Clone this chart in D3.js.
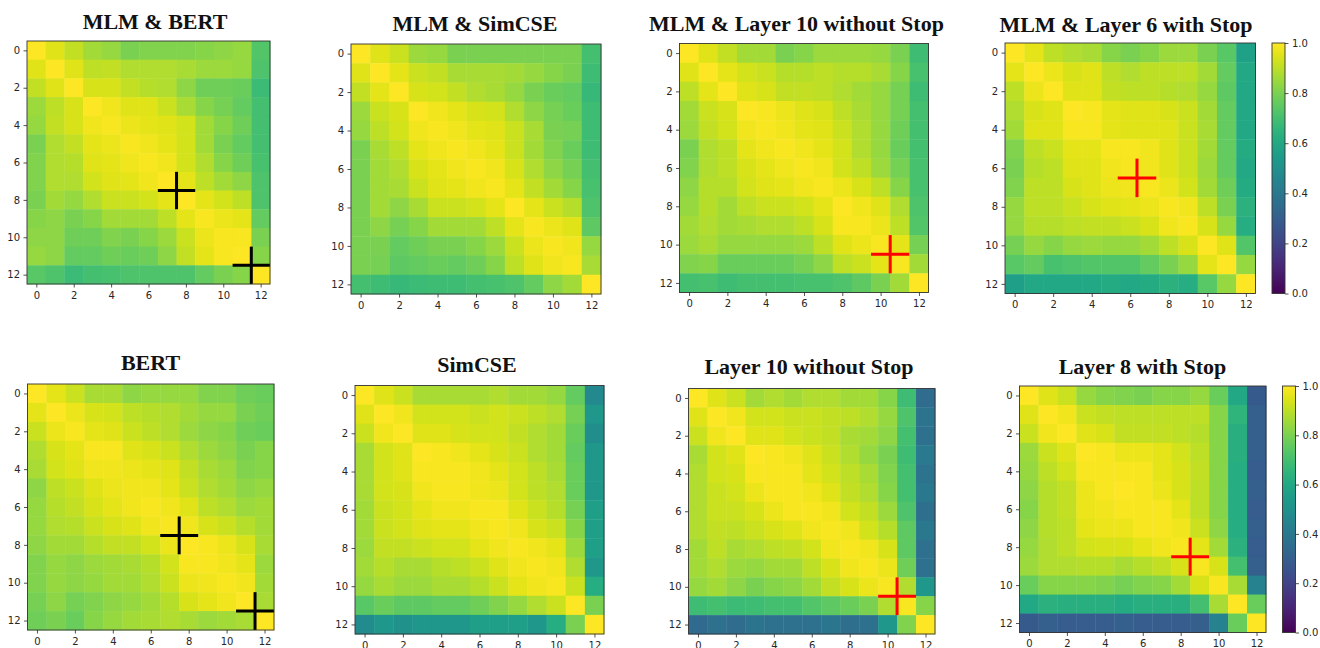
<!DOCTYPE html>
<html><head><meta charset="utf-8">
<script src="https://cdn.jsdelivr.net/npm/d3@7"></script>
<style>body{margin:0;background:#fff;} svg{display:block;}</style>
</head><body>
<svg id="chart" width="1320" height="648"></svg>
<script>
// ---------- DATA ----------
const layerIndex = [0,1,2,3,4,5,6,7,8,9,10,11,12];
const axisTicks = [0,2,4,6,8,10,12];
const colorbarTicks = [0.0,0.2,0.4,0.6,0.8,1.0];
const titles = ["MLM & BERT","MLM & SimCSE","MLM & Layer 10 without Stop","MLM & Layer 6 with Stop",
                "BERT","SimCSE","Layer 10 without Stop","Layer 8 with Stop"];

const mlmBert = [
 [1.00,0.95,0.91,0.86,0.84,0.80,0.81,0.81,0.81,0.82,0.83,0.84,0.73],
 [0.95,1.00,0.95,0.90,0.91,0.88,0.88,0.88,0.87,0.85,0.85,0.84,0.72],
 [0.91,0.95,1.00,0.94,0.94,0.91,0.89,0.88,0.83,0.78,0.78,0.77,0.68],
 [0.85,0.90,0.94,1.00,0.98,0.95,0.95,0.92,0.87,0.82,0.79,0.76,0.70],
 [0.84,0.91,0.94,0.98,0.99,0.97,0.96,0.95,0.93,0.86,0.82,0.78,0.70],
 [0.80,0.88,0.91,0.96,0.97,0.99,0.98,0.96,0.93,0.86,0.80,0.76,0.70],
 [0.81,0.88,0.89,0.95,0.96,0.98,0.99,0.98,0.93,0.88,0.82,0.78,0.71],
 [0.81,0.88,0.88,0.93,0.95,0.96,0.98,1.00,0.96,0.90,0.86,0.83,0.72],
 [0.80,0.86,0.84,0.88,0.92,0.92,0.93,0.96,1.00,0.96,0.93,0.90,0.72],
 [0.82,0.83,0.80,0.82,0.86,0.86,0.86,0.90,0.96,0.99,0.97,0.96,0.76],
 [0.83,0.83,0.78,0.78,0.81,0.80,0.82,0.85,0.92,0.97,0.99,0.99,0.80],
 [0.84,0.83,0.76,0.76,0.78,0.77,0.78,0.83,0.91,0.96,0.99,1.00,0.82],
 [0.74,0.72,0.68,0.70,0.71,0.72,0.72,0.72,0.72,0.76,0.80,0.82,1.00]
];
const mlmSimcse = [
 [1.00,0.95,0.92,0.85,0.84,0.80,0.80,0.80,0.80,0.80,0.80,0.80,0.70],
 [0.95,1.00,0.96,0.92,0.91,0.87,0.87,0.87,0.86,0.84,0.82,0.80,0.69],
 [0.91,0.96,1.00,0.94,0.93,0.91,0.88,0.87,0.84,0.80,0.77,0.76,0.67],
 [0.85,0.92,0.94,1.00,0.98,0.96,0.94,0.93,0.88,0.83,0.79,0.77,0.69],
 [0.84,0.90,0.93,0.98,0.99,0.98,0.96,0.95,0.92,0.87,0.80,0.79,0.69],
 [0.80,0.87,0.90,0.96,0.98,0.99,0.98,0.96,0.92,0.86,0.81,0.77,0.69],
 [0.80,0.86,0.88,0.94,0.96,0.98,0.99,0.98,0.94,0.88,0.83,0.79,0.70],
 [0.80,0.86,0.87,0.92,0.95,0.96,0.98,0.99,0.96,0.91,0.86,0.82,0.71],
 [0.80,0.86,0.83,0.87,0.92,0.92,0.93,0.96,1.00,0.96,0.92,0.89,0.72],
 [0.80,0.83,0.79,0.82,0.86,0.86,0.86,0.90,0.96,0.99,0.97,0.95,0.75],
 [0.80,0.80,0.76,0.78,0.80,0.80,0.82,0.85,0.92,0.97,0.99,0.98,0.84],
 [0.80,0.79,0.75,0.76,0.77,0.76,0.78,0.82,0.90,0.95,0.98,0.99,0.87],
 [0.70,0.69,0.67,0.68,0.69,0.69,0.70,0.71,0.72,0.76,0.83,0.86,1.00]
];
const mlmL10NoStop = [
 [1.00,0.95,0.91,0.86,0.86,0.80,0.82,0.85,0.85,0.85,0.84,0.80,0.69],
 [0.95,1.00,0.96,0.93,0.92,0.89,0.89,0.90,0.89,0.89,0.87,0.82,0.71],
 [0.90,0.96,1.00,0.95,0.94,0.91,0.91,0.90,0.88,0.86,0.84,0.79,0.69],
 [0.86,0.92,0.94,1.00,0.99,0.97,0.95,0.94,0.90,0.87,0.84,0.79,0.70],
 [0.85,0.91,0.93,0.98,0.99,0.98,0.96,0.95,0.92,0.88,0.84,0.78,0.70],
 [0.80,0.88,0.90,0.96,0.98,0.99,0.98,0.96,0.93,0.88,0.84,0.77,0.70],
 [0.81,0.88,0.90,0.94,0.96,0.98,0.99,0.98,0.93,0.90,0.85,0.79,0.71],
 [0.83,0.89,0.89,0.93,0.95,0.96,0.98,0.99,0.97,0.94,0.90,0.82,0.71],
 [0.84,0.89,0.86,0.90,0.92,0.92,0.93,0.96,1.00,0.98,0.95,0.88,0.72],
 [0.86,0.88,0.86,0.87,0.88,0.88,0.90,0.94,0.99,0.99,0.97,0.90,0.73],
 [0.85,0.87,0.84,0.84,0.84,0.84,0.85,0.90,0.95,0.97,0.99,0.96,0.79],
 [0.81,0.82,0.77,0.77,0.77,0.77,0.79,0.83,0.90,0.92,0.96,0.99,0.86],
 [0.70,0.71,0.69,0.70,0.70,0.70,0.71,0.71,0.72,0.75,0.80,0.86,1.00]
];
const mlmL6Stop = [
 [1.00,0.96,0.90,0.88,0.87,0.82,0.80,0.82,0.85,0.85,0.80,0.74,0.57],
 [0.96,1.00,0.97,0.94,0.95,0.90,0.88,0.90,0.90,0.90,0.86,0.76,0.60],
 [0.90,0.97,1.00,0.95,0.95,0.91,0.90,0.90,0.89,0.88,0.84,0.75,0.60],
 [0.88,0.94,0.95,1.00,0.99,0.96,0.95,0.95,0.94,0.92,0.86,0.76,0.60],
 [0.86,0.95,0.95,0.99,0.99,0.96,0.95,0.95,0.95,0.92,0.87,0.76,0.60],
 [0.81,0.90,0.92,0.96,0.96,0.99,0.99,0.98,0.95,0.92,0.86,0.76,0.61],
 [0.80,0.89,0.90,0.95,0.95,0.98,0.99,0.98,0.95,0.92,0.85,0.76,0.60],
 [0.81,0.90,0.90,0.94,0.95,0.97,0.98,0.99,0.97,0.93,0.86,0.78,0.61],
 [0.84,0.90,0.90,0.92,0.94,0.95,0.96,0.97,0.99,0.98,0.90,0.80,0.64],
 [0.84,0.89,0.89,0.90,0.91,0.91,0.92,0.94,0.98,0.99,0.94,0.84,0.62],
 [0.79,0.84,0.82,0.84,0.85,0.84,0.84,0.86,0.90,0.94,1.00,0.95,0.73],
 [0.74,0.76,0.71,0.72,0.73,0.73,0.73,0.76,0.80,0.84,0.96,1.00,0.84],
 [0.56,0.60,0.60,0.60,0.60,0.61,0.60,0.61,0.64,0.62,0.74,0.84,1.00]
];
const bert = [
 [1.00,0.96,0.92,0.87,0.87,0.83,0.84,0.84,0.84,0.81,0.81,0.78,0.77],
 [0.96,1.00,0.97,0.94,0.93,0.90,0.89,0.88,0.86,0.84,0.84,0.80,0.78],
 [0.92,0.97,0.99,0.96,0.95,0.92,0.90,0.88,0.85,0.83,0.82,0.78,0.77],
 [0.88,0.94,0.96,0.99,0.99,0.95,0.94,0.92,0.88,0.85,0.83,0.80,0.82],
 [0.87,0.93,0.95,0.98,0.98,0.97,0.96,0.95,0.91,0.87,0.85,0.81,0.82],
 [0.83,0.90,0.92,0.95,0.97,0.98,0.98,0.96,0.92,0.88,0.86,0.83,0.84],
 [0.84,0.89,0.91,0.94,0.96,0.98,0.99,0.98,0.95,0.90,0.88,0.85,0.86],
 [0.84,0.88,0.89,0.92,0.94,0.95,0.98,0.99,0.98,0.94,0.92,0.89,0.86],
 [0.83,0.86,0.86,0.89,0.91,0.91,0.93,0.97,1.00,0.99,0.97,0.94,0.87],
 [0.81,0.84,0.83,0.85,0.86,0.87,0.89,0.93,0.99,0.99,0.98,0.96,0.85],
 [0.81,0.84,0.83,0.84,0.86,0.86,0.88,0.92,0.97,0.98,0.99,0.98,0.86],
 [0.79,0.83,0.79,0.81,0.83,0.84,0.86,0.89,0.94,0.96,0.98,1.00,0.87],
 [0.78,0.80,0.77,0.82,0.84,0.86,0.87,0.88,0.87,0.85,0.86,0.87,1.00]
];
const simcse = [
 [1.00,0.95,0.92,0.87,0.87,0.87,0.87,0.88,0.86,0.86,0.84,0.76,0.47],
 [0.95,1.00,0.98,0.93,0.93,0.93,0.92,0.93,0.92,0.90,0.88,0.79,0.53],
 [0.92,0.98,1.00,0.95,0.95,0.94,0.93,0.93,0.91,0.88,0.86,0.77,0.49],
 [0.87,0.93,0.95,1.00,0.99,0.98,0.96,0.94,0.92,0.88,0.86,0.76,0.53],
 [0.87,0.93,0.95,0.99,0.99,0.99,0.98,0.96,0.93,0.90,0.87,0.77,0.53],
 [0.87,0.93,0.94,0.98,0.99,0.99,0.98,0.97,0.93,0.90,0.88,0.77,0.53],
 [0.86,0.92,0.93,0.96,0.98,0.98,0.99,0.99,0.95,0.92,0.89,0.79,0.56],
 [0.86,0.92,0.93,0.95,0.96,0.96,0.98,0.99,0.98,0.94,0.92,0.82,0.56],
 [0.85,0.91,0.91,0.92,0.93,0.93,0.96,0.98,0.99,0.98,0.96,0.85,0.56],
 [0.86,0.89,0.87,0.87,0.89,0.90,0.92,0.95,0.98,0.99,0.98,0.88,0.53],
 [0.84,0.87,0.85,0.85,0.87,0.87,0.89,0.92,0.96,0.98,0.99,0.92,0.62],
 [0.74,0.77,0.75,0.75,0.76,0.76,0.78,0.81,0.84,0.88,0.92,1.00,0.80],
 [0.48,0.53,0.50,0.53,0.53,0.53,0.56,0.56,0.56,0.53,0.62,0.80,1.00]
];
const l10NoStop = [
 [1.00,0.95,0.92,0.86,0.88,0.86,0.88,0.88,0.86,0.86,0.82,0.69,0.35],
 [0.95,1.00,0.98,0.93,0.93,0.92,0.92,0.91,0.90,0.88,0.84,0.72,0.38],
 [0.92,0.98,1.00,0.95,0.95,0.93,0.92,0.91,0.87,0.86,0.83,0.70,0.37],
 [0.87,0.93,0.95,1.00,0.99,0.98,0.95,0.92,0.88,0.84,0.80,0.69,0.41],
 [0.88,0.93,0.94,0.99,0.99,0.99,0.96,0.93,0.90,0.87,0.81,0.70,0.38],
 [0.88,0.92,0.93,0.97,0.99,0.99,0.98,0.95,0.91,0.88,0.82,0.70,0.40],
 [0.88,0.92,0.92,0.94,0.97,0.99,0.99,0.98,0.93,0.91,0.85,0.72,0.36],
 [0.88,0.91,0.90,0.92,0.94,0.95,0.98,0.99,0.98,0.93,0.89,0.75,0.40],
 [0.86,0.90,0.87,0.88,0.90,0.91,0.93,0.98,0.99,0.98,0.94,0.75,0.37],
 [0.86,0.88,0.85,0.84,0.86,0.86,0.90,0.94,0.98,0.99,0.97,0.78,0.37],
 [0.84,0.86,0.83,0.80,0.82,0.83,0.86,0.91,0.94,0.97,0.99,0.88,0.53],
 [0.69,0.70,0.68,0.69,0.70,0.70,0.73,0.75,0.77,0.80,0.88,0.99,0.82],
 [0.34,0.37,0.35,0.38,0.37,0.37,0.37,0.39,0.36,0.37,0.53,0.81,1.00]
];
const l8Stop = [
 [1.00,0.95,0.92,0.84,0.82,0.81,0.80,0.82,0.82,0.84,0.77,0.60,0.28],
 [0.95,1.00,0.98,0.92,0.91,0.90,0.90,0.90,0.90,0.90,0.82,0.65,0.30],
 [0.92,0.98,1.00,0.95,0.94,0.91,0.91,0.91,0.90,0.89,0.82,0.63,0.30],
 [0.85,0.92,0.95,1.00,0.99,0.97,0.97,0.96,0.93,0.90,0.82,0.63,0.30],
 [0.84,0.90,0.93,0.99,0.99,0.99,0.99,0.96,0.94,0.91,0.82,0.62,0.29],
 [0.83,0.89,0.91,0.97,0.99,1.00,0.99,0.97,0.94,0.90,0.82,0.62,0.30],
 [0.82,0.89,0.91,0.97,0.98,0.99,0.99,0.99,0.96,0.90,0.82,0.62,0.29],
 [0.83,0.89,0.90,0.96,0.97,0.97,0.99,0.99,0.98,0.92,0.83,0.62,0.30],
 [0.84,0.88,0.90,0.93,0.94,0.94,0.96,0.98,0.99,0.96,0.86,0.64,0.29],
 [0.85,0.88,0.88,0.89,0.89,0.87,0.89,0.91,0.94,0.99,0.94,0.70,0.30],
 [0.77,0.82,0.82,0.82,0.81,0.79,0.81,0.82,0.86,0.94,0.99,0.87,0.44],
 [0.60,0.64,0.63,0.63,0.63,0.61,0.63,0.63,0.63,0.70,0.87,1.00,0.77],
 [0.28,0.30,0.29,0.29,0.29,0.30,0.29,0.29,0.29,0.30,0.44,0.77,1.00]
];
const matrices = [mlmBert, mlmSimcse, mlmL10NoStop, mlmL6Stop, bert, simcse, l10NoStop, l8Stop];

// cross markers: panel, x, y, color
const markerPanel = [0,0,2,3,4,4,6,7];
const markerX     = [7.5,11.5,10.5,6.35,7.5,11.5,10.5,8.5];
const markerY     = [7.5,11.5,10.5,6.5,7.5,11.5,10.5,8.5];
const markerColor = ["#000","#000","#f00","#f00","#000","#000","#f00","#f00"];

// ---------- LAYOUT ----------
const layout = [
 {x:27,   y:41,   w:243,   h:243,   tx:155,   ty:29},
 {x:351,  y:44,   w:250,   h:250,   tx:475,   ty:30.5},
 {x:679.5,y:43.5, w:249,   h:249,   tx:796.5, ty:30.5},
 {x:1005, y:43,   w:250.5, h:250.5, tx:1126,  ty:31.5, cb:{x:1272, y:43, w:13, h:250.5}},
 {x:27.5, y:384,  w:246.5, h:246,   tx:150.5, ty:370},
 {x:355,  y:385.5,w:249,   h:248.5, tx:477,   ty:372},
 {x:688.5,y:388.5,w:246.5, h:245.5, tx:809,   ty:374},
 {x:1019.5,y:386, w:246.5, h:246.5, tx:1142.5,ty:374, cb:{x:1282.5, y:386, w:13, h:246.5}}
];

const svg = d3.select("#chart");
const color = d3.scaleSequential(d3.interpolateViridis).domain([0,1]);
const tickFont = "'DejaVu Sans', sans-serif";
const tickColor = "#262626";

function styleAxis(g){
  g.select(".domain").remove();
  g.selectAll(".tick line").attr("stroke", "#262626").attr("stroke-width", 0.8);
  g.selectAll(".tick text").attr("fill", tickColor).style("font-family", tickFont).style("font-size","10px");
}

const defs = svg.append("defs");
const grad = defs.append("linearGradient").attr("id","viridisGrad")
  .attr("x1","0").attr("y1","1").attr("x2","0").attr("y2","0");
d3.range(0, 1.0001, 0.05).forEach(t => {
  grad.append("stop").attr("offset", t).attr("stop-color", color(t));
});

matrices.forEach((m, pi) => {
  const L = layout[pi];
  const g = svg.append("g").attr("transform", `translate(${L.x},${L.y})`);
  const xb = d3.scaleBand().domain(layerIndex).range([0, L.w]);
  const yb = d3.scaleBand().domain(layerIndex).range([0, L.h]);
  const xl = d3.scaleLinear().domain([-0.5, 12.5]).range([0, L.w]);
  const yl = d3.scaleLinear().domain([-0.5, 12.5]).range([0, L.h]);

  const cells = [];
  m.forEach((row, r) => row.forEach((v, c) => cells.push({r, c, v})));
  g.selectAll("rect.cell").data(cells).join("rect")
    .attr("class","cell")
    .attr("x", d => xb(d.c)).attr("y", d => yb(d.r))
    .attr("width", xb.bandwidth() + 0.4).attr("height", yb.bandwidth() + 0.4)
    .attr("fill", d => color(d.v));

  // markers
  const mk = markerPanel.map((p, i) => ({p, x: markerX[i], y: markerY[i], c: markerColor[i]})).filter(d => d.p === pi);
  mk.forEach(d => {
    g.append("line").attr("x1", xl(d.x - 1)).attr("x2", xl(d.x + 1))
      .attr("y1", yl(d.y)).attr("y2", yl(d.y))
      .attr("stroke", d.c).attr("stroke-width", 3);
    g.append("line").attr("x1", xl(d.x)).attr("x2", xl(d.x))
      .attr("y1", yl(d.y - 1)).attr("y2", yl(d.y + 1))
      .attr("stroke", d.c).attr("stroke-width", 3);
  });

  g.append("rect").attr("width", L.w).attr("height", L.h)
    .attr("fill","none").attr("stroke","#333").attr("stroke-width",0.9);

  g.append("g").call(d3.axisLeft(xl.copy().range([0, L.h])).tickValues(axisTicks).tickSize(3.5).tickPadding(3.5)).call(styleAxis);
  g.append("g").attr("transform", `translate(0,${L.h})`)
    .call(d3.axisBottom(xl).tickValues(axisTicks).tickSize(3.5).tickPadding(4)).call(styleAxis);

  svg.append("text").attr("x", L.tx).attr("y", L.ty).attr("text-anchor","middle")
    .style("font-family","'Liberation Serif', 'Times New Roman', serif")
    .style("font-weight","bold").style("font-size","22px").attr("fill","#111")
    .text(titles[pi]);

  if (L.cb) {
    const cg = svg.append("g").attr("transform", `translate(${L.cb.x},${L.cb.y})`);
    cg.append("rect").attr("width", L.cb.w).attr("height", L.cb.h).attr("fill","url(#viridisGrad)")
      .attr("stroke","#333").attr("stroke-width",0.9);
    const cs = d3.scaleLinear().domain([0,1]).range([L.cb.h, 0]);
    cg.append("g").attr("transform", `translate(${L.cb.w},0)`)
      .call(d3.axisRight(cs).tickValues(colorbarTicks).tickFormat(d3.format(".1f")).tickSize(3.5).tickPadding(3.5))
      .call(styleAxis);
  }
});
</script>
</body></html>
